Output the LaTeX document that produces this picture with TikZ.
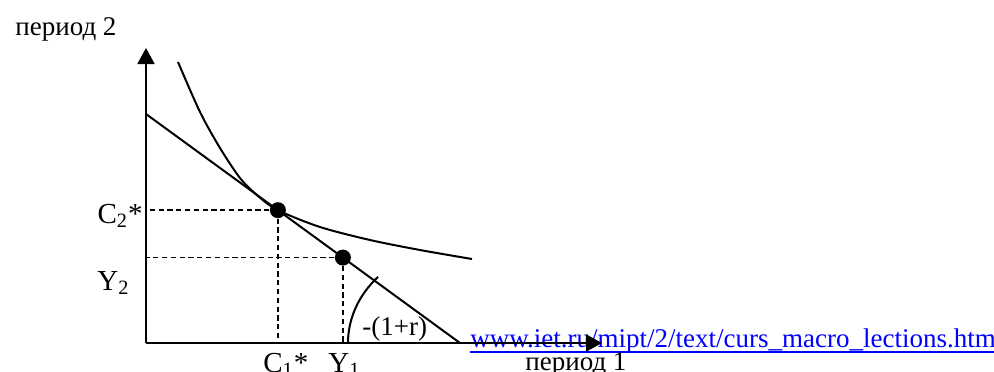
\documentclass[tikz,border=0pt]{standalone}
\usepackage{fontspec}
\setmainfont{Liberation Serif}
\usetikzlibrary{arrows.meta,calc}
\definecolor{urlblue}{RGB}{0,0,255}

\begin{document}
\begin{tikzpicture}[x=0.5pt,y=0.5pt,
  every node/.style={font=\fontsize{13.5}{16}\selectfont,inner sep=0pt},
  lbl/.style={anchor=base west,font=\fontsize{14.5}{17}\selectfont},
  axis/.style={line width=1pt,-{Triangle[length=8pt,width=8.5pt]}},
  dashline/.style={line width=0.9pt,dash pattern=on 2.6pt off 1.8pt},
  dot/.style={circle,fill=black,minimum size=8pt,inner sep=0pt}]
  \useasboundingbox (0,0) rectangle (994,371);

  \coordinate (o) at (146,28);
  \coordinate (ytip) at (146,323);
  \coordinate (xtip) at (602,28);
  \coordinate (a) at (146,257);
  \coordinate (b) at (460,28);

  \node[anchor=base west,text=urlblue] (url) at (470,24)
    {www.iet.ru/mipt/2/text/curs\_macro\_lections.htm};
  \draw[urlblue,line width=1pt] ([yshift=-2.5pt]url.base west) -- ([yshift=-2.5pt]url.base east);

  \draw[axis] (o) -- (ytip);
  \draw[axis] (o) -- (xtip);

  \node[dot] (c) at ($(a)!0.42!(b)$) {};
  \node[dot] (y) at ($(a)!0.627!(b)$) {};

  \draw[line width=1pt] (a) -- (b);
  \draw[line width=1pt] plot[smooth] coordinates
    {(178,309) (200,259) (220,223) (240,193) (258,175) (c.center)
     (320,144) (370,131) (420,121) (472,112)};

  \draw[dashline] (c) -- (c -| o);
  \draw[dashline] (c) -- (c |- o);
  \draw[dashline] (y) -- (y -| o);
  \draw[dashline] (y) -- (y |- o);

  \draw[line width=1pt] (b) ++(-112,0) arc[start angle=180,end angle=137,x radius=112,y radius=97];

  \node[anchor=base west] (p2) at (15,336) {период 2};
  \node[lbl,anchor=base east] (c2) at (143,148) {C\textsubscript{2}*};
  \node[lbl] (y2) at (97,81) {Y\textsubscript{2}};
  \node[lbl] (c1) at (263,-1) {C\textsubscript{1}*};
  \node[lbl] (y1) at (328,-1) {Y\textsubscript{1}};
  \node[anchor=base west] (slope) at (362,36) {-(1+r)};
  \node[anchor=base west] (p1) at (525,1) {период 1};
\end{tikzpicture}
\end{document}
